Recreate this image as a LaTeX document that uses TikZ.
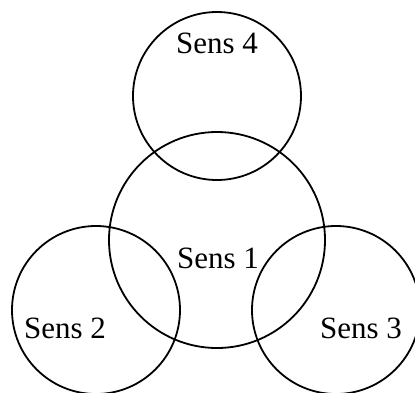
\documentclass[tikz,border=0pt]{standalone}
\usepackage{fontspec}
\setmainfont{Liberation Serif}
\usepackage{tikz}
\tikzset{
    senscircle/.style={circle,draw=black,line width=1.8pt,inner sep=0pt},
    senslabel/.style={anchor=base,inner sep=0pt,font=\fontsize{31}{37}\selectfont}
}

\begin{document}
\begin{tikzpicture}[x=1pt,y=-1pt]
        \useasboundingbox (0,0) rectangle (415,392);

        % Sens 4
        \node[senscircle,minimum size=168pt] (c4) at (217,96) {};
        \node[senslabel] (l4) at (217,53) {Sens 4};

        % Sens 1
        \node[senscircle,minimum size=216pt] (c1) at (217,240) {};
        \node[senslabel] (l1) at (218,268) {Sens 1};

        % Sens 2
        \node[senscircle,minimum size=168pt] (c2) at (96,310) {};
        \node[senslabel] (l2) at (65,338) {Sens 2};

        % Sens 3
        \node[senscircle,minimum size=168pt] (c3) at (336,310) {};
        \node[senslabel] (l3) at (361,338) {Sens 3};
    \end{tikzpicture}
\end{document}
